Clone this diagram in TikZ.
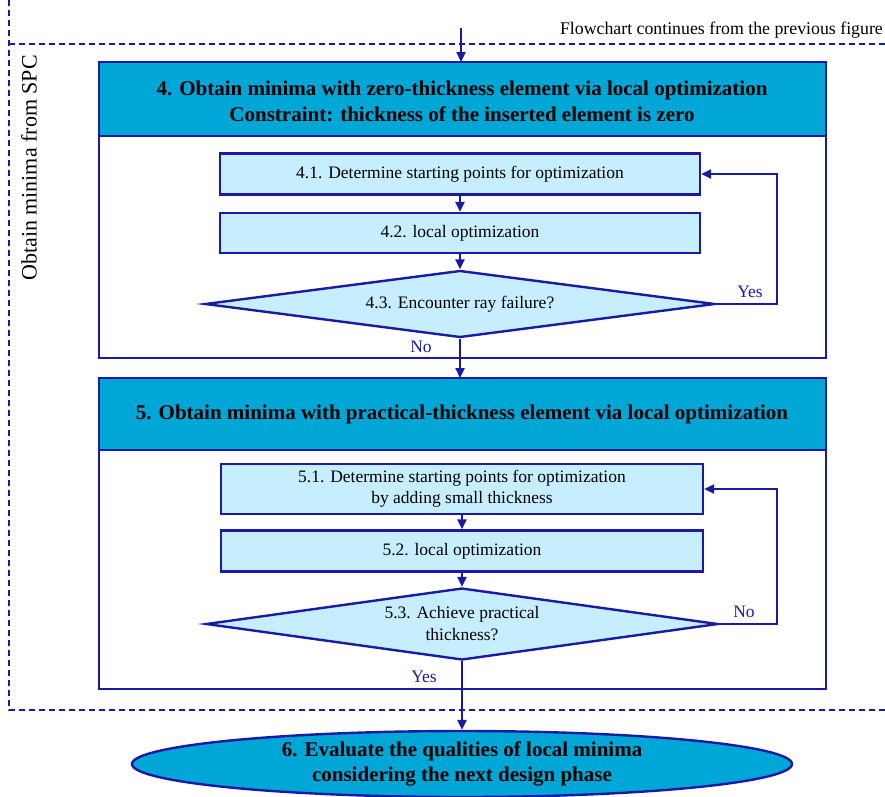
\documentclass[tikz,border=0pt]{standalone}
\usepackage{fontspec}
\setmainfont{Liberation Serif}
\usetikzlibrary{arrows.meta,shapes.geometric,calc}
\definecolor{navy}{RGB}{26,26,166}
\definecolor{headblue}{RGB}{0,166,214}
\definecolor{paleblue}{RGB}{198,238,255}
\begin{document}
\begin{tikzpicture}[x=1pt,y=-1pt,
  flow/.style={draw=navy,line width=2.3pt,-{Triangle[length=10pt,width=9pt]}},
  frame/.style={draw=navy,line width=1.5pt,dash pattern=on 6pt off 4pt},
  outerbox/.style={draw=navy,line width=2pt,fill=white},
  headbox/.style={draw=navy,line width=2.6pt,fill=headblue},
  headtext/.style={font=\fontsize{21}{26}\selectfont\bfseries,align=center},
  stepbox/.style={draw=navy,line width=2.4pt,fill=paleblue,font=\fontsize{17.5}{21}\selectfont,align=center},
  decision/.style={diamond,draw=navy,line width=2.4pt,fill=paleblue,inner sep=0pt,font=\fontsize{17.5}{22}\selectfont,align=center},
  answer/.style={text=navy,font=\fontsize{17.5}{20}\selectfont}
]
\useasboundingbox (0,0) rectangle (885,796);

% dashed frame of the SPC stage
\draw[frame] (885,44) -- (9,44);
\draw[frame] (9,0) -- (9,710) -- (885,710);
\node[anchor=south east,font=\fontsize{17.8}{20}\selectfont,inner sep=1pt] (cont) at (884,40) {Flowchart continues from the previous figure};
\node[rotate=90,font=\fontsize{22}{24}\selectfont] (spc) at (29,168) {Obtain minima from SPC};

% stage 4
\path[outerbox] (99,62) rectangle (826,358);
\path[headbox] (99,62) rectangle (826,136);
\node[headtext] (h4) at (462,101)
  {4. Obtain minima with zero-thickness element via local optimization\\Constraint: thickness of the inserted element is zero};
\coordinate (top4) at (461,62);
\coordinate (in4) at (461,28);

\node[stepbox,minimum width=480pt,minimum height=41pt] (s41) at (460,174) {4.1. Determine starting points for optimization};
\node[stepbox,minimum width=480pt,minimum height=40pt] (s42) at (460,233) {4.2. local optimization};
\node[decision,aspect=7.6,minimum width=510pt,minimum height=67pt] (d43) at (460,304) {4.3. Encounter ray failure?};

% stage 5
\path[outerbox] (99,378) rectangle (826,689);
\path[headbox] (99,378) rectangle (826,450);
\node[headtext] (h5) at (462,414)
  {5. Obtain minima with practical-thickness element via local optimization};
\coordinate (top5) at (460,378);

\node[stepbox,minimum width=482pt,minimum height=50pt] (s51) at (462,489) {5.1. Determine starting points for optimization\\by adding small thickness};
\node[stepbox,minimum width=482pt,minimum height=41pt] (s52) at (462,551) {5.2. local optimization};
\node[decision,aspect=7.1,minimum width=512pt,minimum height=72pt] (d53) at (462,624) {5.3. Achieve practical\\thickness?};

% final step
\node[ellipse,draw=navy,line width=2.4pt,fill=headblue,minimum width=660pt,minimum height=66pt,inner sep=0pt,
  font=\fontsize{21}{25}\selectfont\bfseries,align=center] (e6) at (462,764)
  {6. Evaluate the qualities of local minima\\considering the next design phase};

% connectors
\draw[flow] (in4) -- (top4);
\draw[flow] (s41) -- (s42);
\draw[flow] (s42) -- (d43.north);
\draw[flow] (d43.east) -- (777,304) |- (s41.east);
\node[answer] (yes4) at (750,292) {Yes};
\draw[flow] (d43.south) -- (top5);
\node[answer] (no4) at (421,347) {No};

\draw[flow] (s51) -- (s52);
\draw[flow] (s52) -- (d53.north);
\draw[flow] (d53.east) -- (777,624) |- (s51.east);
\node[answer] (no5) at (744,612) {No};
\draw[flow] (d53.south) -- (e6.north);
\node[answer] (yes5) at (424,677) {Yes};
\end{tikzpicture}
\end{document}
